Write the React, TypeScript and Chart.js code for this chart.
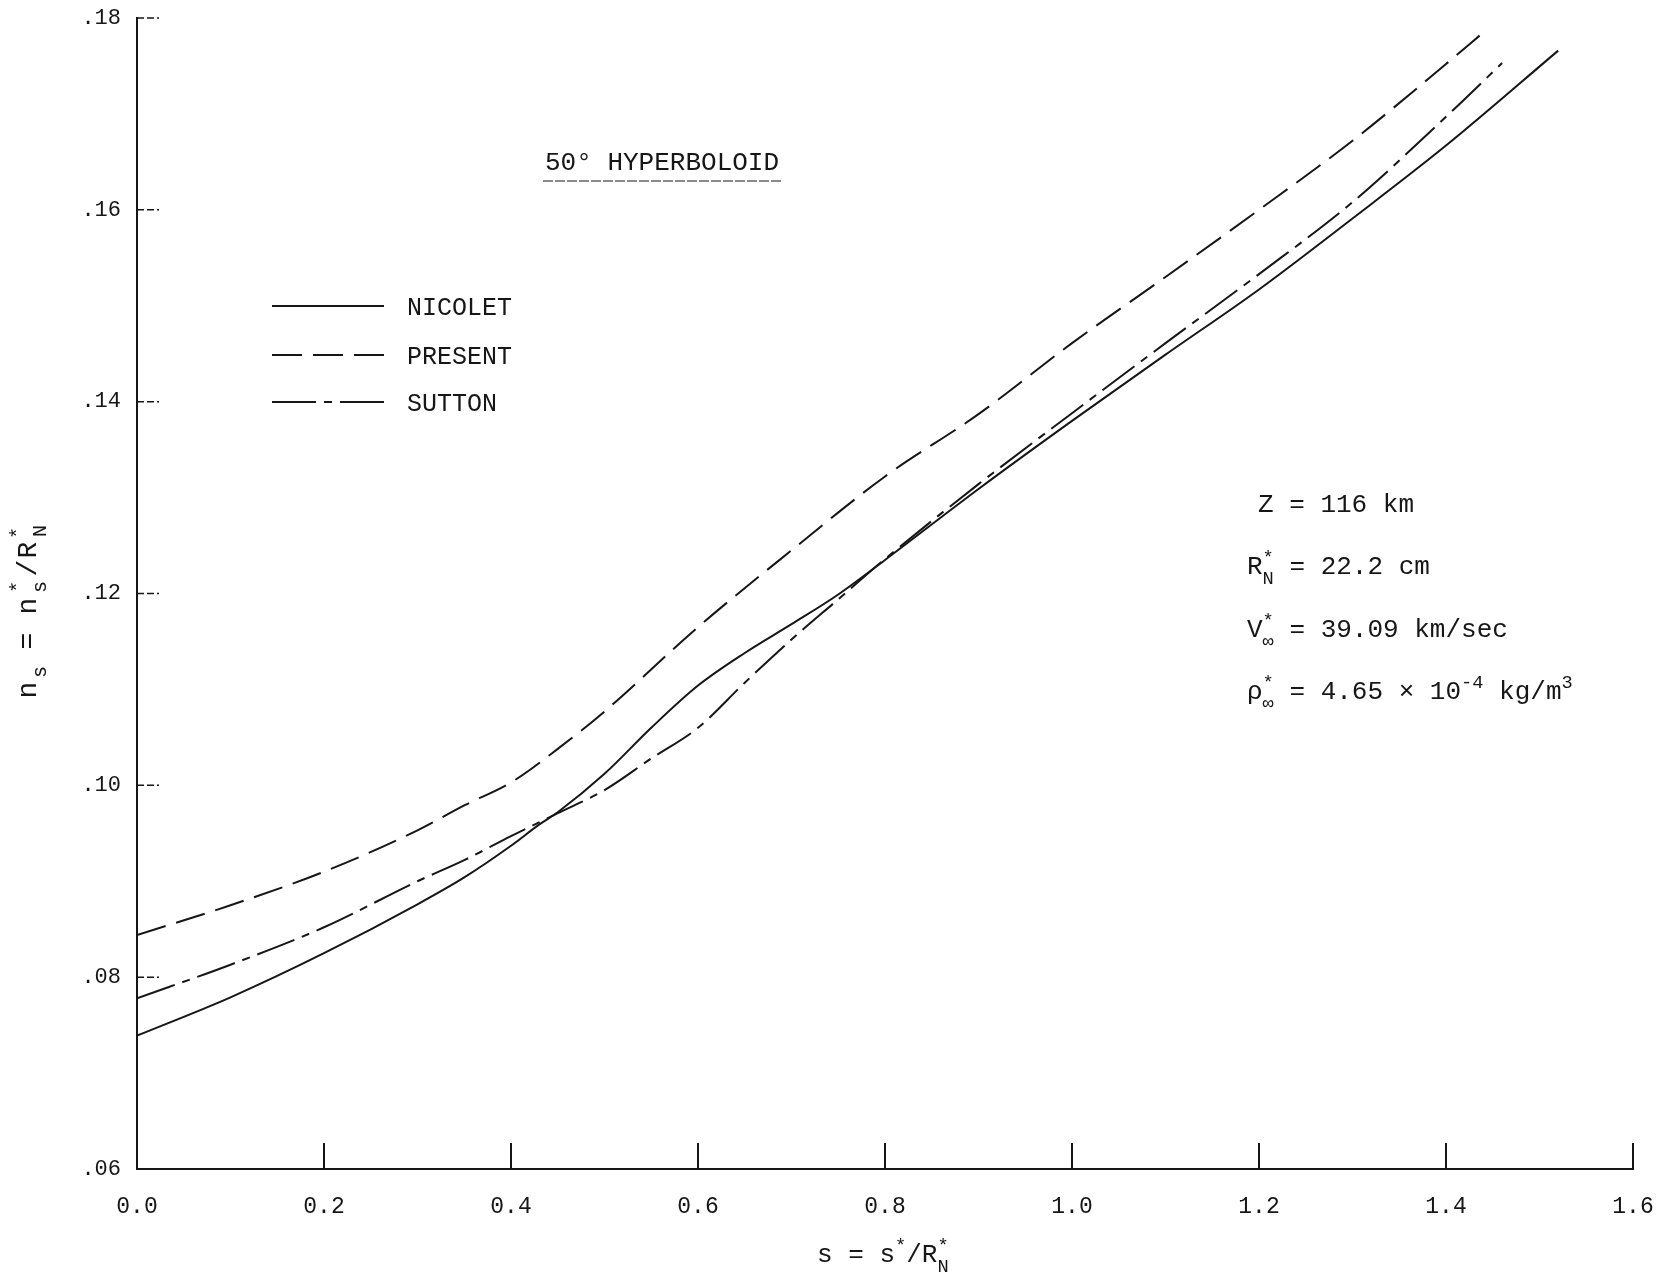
import React, { useEffect, useRef } from "react";
import { Chart, registerables } from "chart.js";

Chart.register(...registerables);

// ---- Data ----
const sNicolet = [0, 0.1, 0.2, 0.3, 0.35, 0.4, 0.43, 0.45, 0.5, 0.55, 0.6, 0.65, 0.7, 0.75, 0.8, 0.9, 1.0, 1.1, 1.2, 1.3, 1.4, 1.52];
const nNicolet = [0.0739, 0.0779, 0.0825, 0.0876, 0.0904, 0.0937, 0.0959, 0.0972, 0.1012, 0.106, 0.1104, 0.1138, 0.1168, 0.1199, 0.1235, 0.1309, 0.138, 0.1449, 0.1517, 0.1591, 0.1667, 0.1766];

const sPresent = [0, 0.1, 0.2, 0.3, 0.35, 0.4, 0.45, 0.5, 0.6, 0.7, 0.8, 0.9, 1.0, 1.1, 1.2, 1.3, 1.4, 1.44];
const nPresent = [0.0844, 0.0875, 0.091, 0.0953, 0.0979, 0.1003, 0.1038, 0.1077, 0.1165, 0.1245, 0.1322, 0.1387, 0.1461, 0.153, 0.16, 0.1672, 0.1752, 0.1785];

const sSutton = [0, 0.1, 0.2, 0.3, 0.35, 0.4, 0.45, 0.5, 0.55, 0.6, 0.65, 0.7, 0.75, 0.8, 0.9, 1.0, 1.1, 1.2, 1.3, 1.4, 1.46];
const nSutton = [0.0778, 0.0813, 0.0852, 0.09, 0.0922, 0.0947, 0.0971, 0.0995, 0.1028, 0.106, 0.1107, 0.1152, 0.1194, 0.1236, 0.1314, 0.1388, 0.1461, 0.1533, 0.1608, 0.1697, 0.1753];

const seriesNames = ["NICOLET", "PRESENT", "SUTTON"];
const xTickValues = [0.2, 0.4, 0.6, 0.8, 1.0, 1.2, 1.4, 1.6];
const yTickValues = [0.08, 0.1, 0.12, 0.14, 0.16, 0.18];

const chartTitle = "50° HYPERBOLOID";
const conditionZ = "116 km";
const conditionR = "22.2 cm";
const conditionV = "39.09 km/sec";
const conditionRho = "4.65 × 10";

const MONO = '"Liberation Mono", "DejaVu Sans Mono", monospace';
const INK = "#161616";
const DASHES: number[][] = [[], [30, 11], [40, 8, 8, 8]];
const LEGEND_DASHES: number[][] = [[], [30, 11], [44, 8, 8, 8]];

const zip = (xs: number[], ys: number[]) => xs.map((x, i) => ({ x, y: ys[i] }));

type Part = { t?: string; sup?: string; sub?: string; stack?: [string, string] };

function drawRich(ctx: CanvasRenderingContext2D, x: number, y: number, parts: Part[], size: number) {
  let cx = x;
  const small = size * 0.72;
  for (const p of parts) {
    if (p.t !== undefined) {
      ctx.font = `${size}px ${MONO}`;
      ctx.fillText(p.t, cx, y);
      cx += ctx.measureText(p.t).width;
    } else if (p.sup !== undefined) {
      ctx.font = `${small}px ${MONO}`;
      ctx.fillText(p.sup, cx, y - size * 0.42);
      cx += ctx.measureText(p.sup).width;
    } else if (p.sub !== undefined) {
      ctx.font = `${small}px ${MONO}`;
      ctx.fillText(p.sub, cx, y + size * 0.34);
      cx += ctx.measureText(p.sub).width;
    } else if (p.stack) {
      ctx.font = `${small}px ${MONO}`;
      const w1 = ctx.measureText(p.stack[0]).width;
      const w2 = ctx.measureText(p.stack[1]).width;
      ctx.fillText(p.stack[0], cx, y - size * 0.42);
      ctx.fillText(p.stack[1], cx, y + size * 0.4);
      cx += Math.max(w1, w2);
    }
  }
  return cx;
}

const decorPlugin = {
  id: "decor",
  afterDraw(chart: any) {
    const ctx: CanvasRenderingContext2D = chart.ctx;
    const xs = chart.scales.x;
    const ys = chart.scales.y;
    const area = chart.chartArea;
    ctx.save();
    ctx.strokeStyle = INK;
    ctx.fillStyle = INK;

    // inward x ticks
    ctx.lineWidth = 2;
    for (const v of xTickValues) {
      const px = xs.getPixelForValue(v);
      ctx.beginPath();
      ctx.moveTo(px, area.bottom);
      ctx.lineTo(px, area.bottom - 26);
      ctx.stroke();
    }
    // inward y ticks
    ctx.lineWidth = 1.5;
    ctx.setLineDash([7, 3]);
    for (const v of yTickValues) {
      const py = ys.getPixelForValue(v);
      ctx.beginPath();
      ctx.moveTo(area.left, py);
      ctx.lineTo(area.left + 22, py);
      ctx.stroke();
    }
    ctx.setLineDash([]);

    ctx.textBaseline = "alphabetic";
    ctx.textAlign = "left";

    // title with underline
    ctx.font = `26px ${MONO}`;
    ctx.fillText(chartTitle, 545, 170);
    ctx.lineWidth = 1;
    ctx.setLineDash([10, 2]);
    ctx.beginPath();
    ctx.moveTo(543, 181);
    ctx.lineTo(781, 181);
    ctx.stroke();
    ctx.setLineDash([]);

    // legend
    const legendY = [306, 355, 402];
    seriesNames.forEach((name, i) => {
      ctx.lineWidth = 2;
      ctx.setLineDash(LEGEND_DASHES[i]);
      ctx.beginPath();
      ctx.moveTo(272, legendY[i]);
      ctx.lineTo(384, legendY[i]);
      ctx.stroke();
      ctx.setLineDash([]);
      ctx.font = `25px ${MONO}`;
      ctx.fillText(name, 407, legendY[i] + 9);
    });

    // conditions
    const S = 26;
    drawRich(ctx, 1258, 512, [{ t: "Z = " + conditionZ }], S);
    drawRich(ctx, 1247, 574, [{ t: "R" }, { stack: ["*", "N"] }, { t: " = " + conditionR }], S);
    drawRich(ctx, 1247, 637, [{ t: "V" }, { stack: ["*", "∞"] }, { t: " = " + conditionV }], S);
    drawRich(ctx, 1247, 699, [{ t: "ρ" }, { stack: ["*", "∞"] }, { t: " = " + conditionRho }, { sup: "-4" }, { t: " kg/m" }, { sup: "3" }], S);

    // x-axis title
    drawRich(ctx, 817, 1262, [{ t: "s = s" }, { sup: "*" }, { t: "/R" }, { stack: ["*", "N"] }], 26);

    // y-axis title (rotated), glyphs placed along the axis
    const YS = 28;
    const small = YS * 0.72;
    ctx.save();
    ctx.translate(36, 0);
    ctx.rotate(-Math.PI / 2);
    ctx.textAlign = "center";
    const main = (t: string, c: number) => {
      ctx.font = `${YS}px ${MONO}`;
      ctx.fillText(t, -c, 0);
    };
    const sub = (t: string, c: number) => {
      ctx.font = `${small}px ${MONO}`;
      ctx.fillText(t, -c, YS * 0.36);
    };
    const sup = (t: string, c: number) => {
      ctx.font = `${small}px ${MONO}`;
      ctx.fillText(t, -c, -YS * 0.42);
    };
    main("n", 690);
    sub("s", 672);
    main("=", 641);
    main("n", 606);
    sup("*", 587);
    sub("s", 587);
    main("/", 568);
    main("R", 550);
    sup("*", 533);
    sub("N", 531);
    ctx.restore();

    ctx.restore();
  },
};

export default function App() {
  const ref = useRef<HTMLCanvasElement | null>(null);
  useEffect(() => {
    if (!ref.current) return;
    const mk = (label: string, xs: number[], ys: number[], i: number) => ({
      label,
      data: zip(xs, ys),
      showLine: true,
      borderColor: INK,
      borderWidth: 2,
      borderDash: DASHES[i],
      pointRadius: 0,
      cubicInterpolationMode: "monotone" as const,
      fill: false,
    });
    const chart = new Chart(ref.current, {
      type: "scatter",
      data: {
        datasets: [
          mk(seriesNames[0], sNicolet, nNicolet, 0),
          mk(seriesNames[1], sPresent, nPresent, 1),
          mk(seriesNames[2], sSutton, nSutton, 2),
        ],
      },
      options: {
        responsive: false,
        animation: false,
        devicePixelRatio: 1,
        layout: { padding: { top: 18, right: 38, left: 0, bottom: 0 } },
        plugins: { legend: { display: false }, tooltip: { enabled: false }, title: { display: false } },
        scales: {
          x: {
            type: "linear",
            min: 0,
            max: 1.6,
            grid: { display: false, drawTicks: false },
            border: { display: true, color: INK, width: 2 },
            ticks: {
              stepSize: 0.2,
              color: INK,
              padding: 24,
              font: { family: MONO, size: 23 },
              callback: (v: any) => Number(v).toFixed(1),
            },
            afterFit: (s: any) => {
              s.height = 110;
              s.paddingLeft = 0;
              s.paddingRight = 0;
            },
          },
          y: {
            type: "linear",
            min: 0.06,
            max: 0.18,
            grid: { display: false, drawTicks: false },
            border: { display: true, color: INK, width: 2 },
            ticks: {
              stepSize: 0.02,
              color: INK,
              padding: 16,
              font: { family: MONO, size: 22 },
              callback: (v: any) => "." + String(Math.round(Number(v) * 100)).padStart(2, "0"),
            },
            afterFit: (s: any) => {
              s.width = 137;
              s.paddingTop = 0;
              s.paddingBottom = 0;
            },
          },
        },
      },
      plugins: [decorPlugin],
    });
    return () => chart.destroy();
  }, []);
  return (
    <div style={{ position: "fixed", left: 0, top: 0, width: 1671, height: 1279, background: "#fff" }}>
      <canvas ref={ref} width={1671} height={1279} style={{ display: "block", width: 1671, height: 1279 }} />
    </div>
  );
}
